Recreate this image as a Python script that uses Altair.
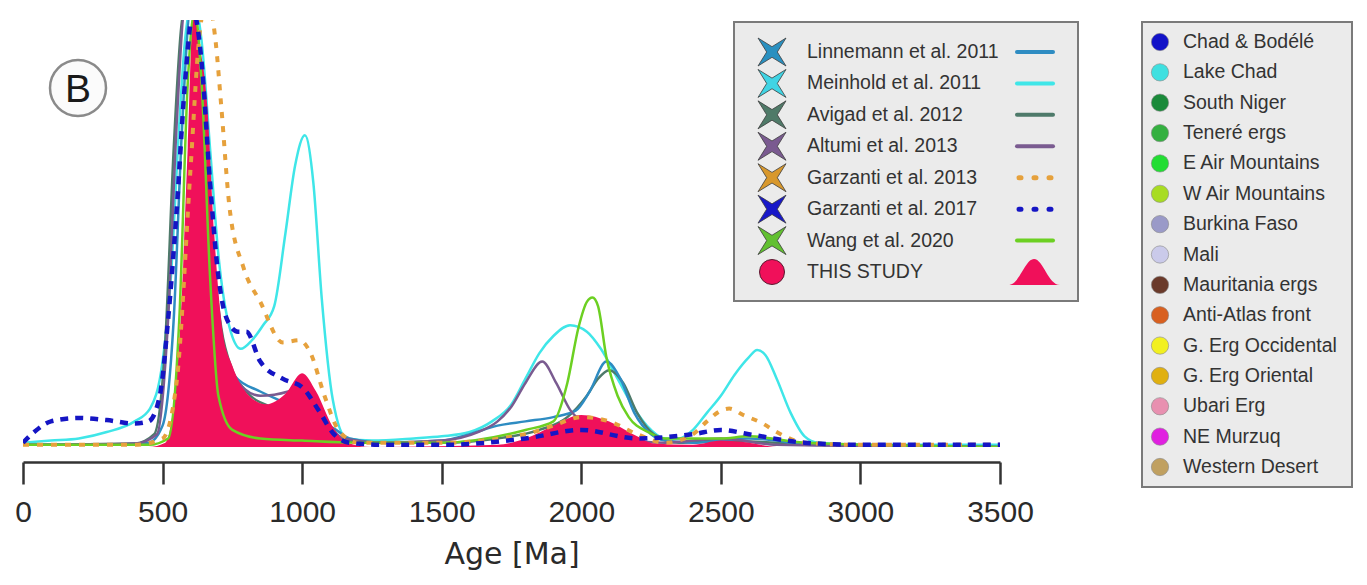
import altair as alt
import pandas as pd

# ---------------- curve data (age in Ma, normalised probability density) ----------------
MEI_AGE = [0, 100, 200, 300, 400, 455, 500, 530, 555, 580, 610, 640, 670, 700, 740, 780, 820, 860, 900, 940,
           975, 1010, 1040, 1070, 1110, 1160, 1250, 1400, 1500, 1600, 1680, 1750, 1800, 1850, 1900, 1960, 2020,
           2070, 2130, 2190, 2250, 2300, 2350, 2400, 2450, 2500, 2550, 2600, 2630, 2660, 2700, 2750, 2800, 2850,
           3000, 3500]
MEI_VAL = [0.01, 0.015, 0.02, 0.035, 0.06, 0.09, 0.2, 0.4, 0.7, 0.95, 1.05, 0.95, 0.7, 0.45, 0.28, 0.23, 0.25,
           0.285, 0.33, 0.5, 0.66, 0.73, 0.62, 0.35, 0.11, 0.02, 0.015, 0.02, 0.025, 0.035, 0.06, 0.1, 0.16, 0.22,
           0.26, 0.285, 0.27, 0.23, 0.16, 0.09, 0.04, 0.02, 0.02, 0.04, 0.08, 0.12, 0.17, 0.21, 0.227, 0.215, 0.16,
           0.08, 0.025, 0.01, 0.005, 0.005]

LIN_AGE = [0, 300, 450, 500, 540, 570, 600, 630, 660, 690, 720, 760, 850, 950, 1050, 1110, 1170, 1300, 1500,
           1600, 1700, 1800, 1900, 1980, 2030, 2090, 2140, 2190, 2250, 2300, 2400, 2500, 2600, 2700, 2800, 3500]
LIN_VAL = [0.005, 0.005, 0.01, 0.05, 0.3, 0.75, 1.02, 0.9, 0.6, 0.35, 0.22, 0.165, 0.13, 0.1, 0.06, 0.045, 0.02,
           0.01, 0.015, 0.03, 0.05, 0.06, 0.07, 0.085, 0.13, 0.2, 0.16, 0.08, 0.03, 0.015, 0.01, 0.015, 0.02,
           0.015, 0.005, 0.0]

AVI_AGE = [0, 400, 470, 510, 540, 570, 595, 620, 650, 680, 710, 750, 800, 900, 1000, 1100, 1200, 1500, 1700,
           1850, 1950, 2020, 2060, 2100, 2150, 2200, 2260, 2350, 2500, 2700, 3500]
AVI_VAL = [0.005, 0.008, 0.03, 0.25, 0.7, 1.0, 1.05, 1.0, 0.75, 0.45, 0.28, 0.18, 0.13, 0.09, 0.06, 0.03, 0.01,
           0.01, 0.02, 0.04, 0.07, 0.12, 0.16, 0.18, 0.15, 0.08, 0.03, 0.01, 0.015, 0.01, 0.0]

ALT_AGE = [0, 400, 480, 520, 550, 580, 610, 640, 670, 700, 750, 850, 950, 1000, 1050, 1150, 1300, 1500, 1630,
           1700, 1750, 1800, 1860, 1910, 1960, 2000, 2050, 2150, 2300, 2500, 2700, 3500]
ALT_VAL = [0.005, 0.008, 0.03, 0.3, 0.75, 1.02, 1.0, 0.75, 0.45, 0.28, 0.17, 0.12, 0.13, 0.15, 0.1, 0.02, 0.01,
           0.015, 0.035, 0.06, 0.095, 0.15, 0.2, 0.15, 0.087, 0.06, 0.04, 0.02, 0.01, 0.02, 0.005, 0.0]

WAN_AGE = [0, 450, 520, 560, 590, 615, 640, 670, 700, 750, 850, 1000, 1200, 1500, 1800, 1900, 1950, 1990, 2020,
           2040, 2060, 2090, 2130, 2170, 2240, 2300, 2500, 2600, 2800, 3500]
WAN_VAL = [0.005, 0.005, 0.02, 0.3, 0.85, 1.02, 0.85, 0.4, 0.12, 0.04, 0.02, 0.015, 0.01, 0.01, 0.04, 0.06, 0.15,
           0.28, 0.34, 0.35, 0.33, 0.21, 0.12, 0.07, 0.035, 0.02, 0.02, 0.025, 0.01, 0.0]

G13_AGE = [0, 400, 500, 550, 600, 630, 660, 690, 710, 740, 790, 850, 930, 990, 1030, 1080, 1130, 1200, 1500,
           1800, 1900, 2000, 2100, 2200, 2300, 2400, 2450, 2500, 2530, 2580, 2650, 2700, 2800, 3000, 3500]
G13_VAL = [0.005, 0.005, 0.02, 0.15, 0.65, 0.95, 1.05, 0.95, 0.8, 0.56, 0.42, 0.34, 0.245, 0.25, 0.22, 0.12, 0.04,
           0.01, 0.01, 0.03, 0.05, 0.07, 0.06, 0.03, 0.01, 0.03, 0.06, 0.085, 0.09, 0.075, 0.055, 0.035, 0.01,
           0.005, 0.005]

G17_AGE = [0, 40, 100, 200, 300, 400, 450, 490, 520, 550, 580, 610, 640, 670, 700, 730, 770, 800, 850, 930, 1000,
           1060, 1110, 1170, 1300, 1500, 1800, 2000, 2200, 2400, 2500, 2600, 2800, 3000, 3500]
G17_VAL = [0.01, 0.035, 0.06, 0.068, 0.063, 0.055, 0.06, 0.12, 0.3, 0.55, 0.85, 1.02, 0.9, 0.62, 0.4, 0.3, 0.27,
           0.27, 0.2, 0.16, 0.14, 0.085, 0.033, 0.01, 0.005, 0.005, 0.02, 0.04, 0.02, 0.03, 0.04, 0.03, 0.01,
           0.005, 0.005]

THS_AGE = [0, 450, 510, 540, 565, 590, 610, 630, 660, 685, 715, 750, 810, 870, 940, 1000, 1050, 1110, 1160, 1250,
           1700, 1800, 1900, 2000, 2100, 2200, 2260, 2400, 2500, 2600, 2700, 3500]
THS_VAL = [0.0, 0.0, 0.01, 0.1, 0.3, 0.7, 1.02, 0.95, 0.8, 0.5, 0.27, 0.19, 0.12, 0.1, 0.125, 0.173, 0.13, 0.047,
           0.01, 0.0, 0.005, 0.02, 0.05, 0.075, 0.06, 0.025, 0.008, 0.005, 0.015, 0.01, 0.0, 0.0]

AGE_TICKS = [0, 500, 1000, 1500, 2000, 2500, 3000, 3500]

# ---------------- legend content ----------------
STUDIES = ["Linnemann et al. 2011", "Meinhold et al. 2011", "Avigad et al. 2012", "Altumi et al. 2013",
           "Garzanti et al. 2013", "Garzanti et al. 2017", "Wang et al. 2020", "THIS STUDY"]
STUDY_LINE_COLORS = ["#2e8cc2", "#3fe6e8", "#4e7a6a", "#7a5b90", "#e6a13c", "#1515c4", "#6cd022", "#f0105a"]
STUDY_SYMBOL_COLORS = ["#2a90c0", "#40d4e4", "#4f7a68", "#7a5a90", "#d8982c", "#1818c8", "#62c030", "#f0105a"]

REGIONS = ["Chad & Bodélé", "Lake Chad", "South Niger", "Teneré ergs", "E Air Mountains", "W Air Mountains",
           "Burkina Faso", "Mali", "Mauritania ergs", "Anti-Atlas front", "G. Erg Occidental", "G. Erg Oriental",
           "Ubari Erg", "NE Murzuq", "Western Desert"]
REGION_COLORS = ["#1212c8", "#3fe0e0", "#1a8a3a", "#34b040", "#22dd33", "#a8dc22", "#9a9ac8", "#cacaea",
                 "#6a3a2a", "#d86020", "#f2f020", "#e0b010", "#e890b0", "#e020e0", "#c0a060"]

PANEL_LABEL = "B"

STAR = "M-1,-1 L0,-0.38 L1,-1 L0.38,0 L1,1 L0,0.38 L-1,1 L-0.38,0 Z"
BELL = "M-1,0.5 C-0.55,0.5 -0.35,-0.5 0,-0.5 C0.35,-0.5 0.55,0.5 1,0.5 Z"

# ---------------- scales / encodings ----------------
AXIS = alt.Axis(title="Age [Ma]", values=AGE_TICKS, format="d", grid=False, offset=15,
                domainWidth=2.5, domainColor="#333333", tickSize=22, tickWidth=2.5, tickColor="#333333",
                labelFont="Liberation Sans", labelFontSize=30, labelColor="#2a2a2a", labelPadding=13,
                labelFlush=False, labelOverlap=False,
                titleFont="DejaVu Sans", titleFontSize=30, titleFontWeight="normal", titleColor="#2a2a2a",
                titlePadding=12)
X = alt.X("age:Q", scale=alt.Scale(domain=[0, 3500], nice=False, zero=False), axis=AXIS)
Y = alt.Y("val:Q", scale=alt.Scale(domain=[0, 1], nice=False), axis=None)


def frame(ages, vals):
    return pd.DataFrame({"age": ages, "val": vals})


def curve(ages, vals, color, width, dash=None):
    kw = dict(color=color, strokeWidth=width, interpolate="monotone", clip=True)
    if dash is not None:
        kw["strokeDash"] = dash
    return alt.Chart(frame(ages, vals)).mark_line(**kw).encode(x=X, y=Y)


curves = alt.layer(
    curve(MEI_AGE, MEI_VAL, STUDY_LINE_COLORS[1], 2.5),
    curve(AVI_AGE, AVI_VAL, STUDY_LINE_COLORS[2], 2.5),
    curve(LIN_AGE, LIN_VAL, STUDY_LINE_COLORS[0], 2.5),
    curve(ALT_AGE, ALT_VAL, STUDY_LINE_COLORS[3], 2.5),
    alt.Chart(frame(THS_AGE, THS_VAL)).mark_area(color=STUDY_LINE_COLORS[7], interpolate="monotone",
                                                  clip=True, opacity=1).encode(x=X, y=Y),
    curve(WAN_AGE, WAN_VAL, STUDY_LINE_COLORS[6], 2.5),
    curve(G13_AGE, G13_VAL, STUDY_LINE_COLORS[4], 4, [6, 8]),
    curve(G17_AGE, G17_VAL, STUDY_LINE_COLORS[5], 4.5, [8, 7]),
)

one = pd.DataFrame({"label": [PANEL_LABEL]})

# ---------------- legend 1 (studies) ----------------
leg1 = pd.DataFrame({"idx": list(range(len(STUDIES))), "label": STUDIES,
                     "line": STUDY_LINE_COLORS, "sym": STUDY_SYMBOL_COLORS})
Y1 = alt.Y("idx:Q", scale=alt.Scale(domain=[0, 7], range=[32, 252]), axis=None)
base1 = alt.Chart(leg1)
legend1 = alt.layer(
    alt.Chart(one).mark_rect(fill="#ebebeb", stroke="#7a7a7a", strokeWidth=2).encode(
        x=alt.value(711), x2=alt.value(1055), y=alt.value(2), y2=alt.value(281)),
    base1.transform_filter("datum.idx < 7").mark_point(shape=STAR, filled=True, size=784, stroke="#3c3c3c",
                                                       strokeWidth=0.8, opacity=1).encode(
        x=alt.value(749), y=Y1, fill=alt.Fill("sym:N", scale=None)),
    base1.transform_filter("datum.idx == 7").mark_point(shape="circle", filled=True, size=625, stroke="#5a1a30",
                                                        strokeWidth=1, opacity=1).encode(
        x=alt.value(749), y=Y1, fill=alt.Fill("sym:N", scale=None)),
    base1.mark_text(align="left", baseline="middle", font="Liberation Sans", fontSize=19.5,
                    color="#333333").encode(x=alt.value(784), y=Y1, text="label:N"),
    base1.transform_filter("datum.idx != 4 && datum.idx != 5 && datum.idx != 7").mark_rule(
        strokeWidth=4, strokeCap="round").encode(
        x=alt.value(994), x2=alt.value(1030), y=Y1, color=alt.Color("line:N", scale=None)),
    base1.transform_filter("datum.idx == 4 || datum.idx == 5").mark_rule(
        strokeWidth=5, strokeCap="round", strokeDash=[2, 13]).encode(
        x=alt.value(996), x2=alt.value(1032), y=Y1, color=alt.Color("line:N", scale=None)),
    base1.transform_filter("datum.idx == 7").mark_point(shape=BELL, filled=True, size=2704, strokeWidth=0,
                                                        opacity=1).encode(
        x=alt.value(1011), y=Y1, fill=alt.Fill("line:N", scale=None)),
)

# ---------------- legend 2 (regions) ----------------
leg2 = pd.DataFrame({"idx": list(range(len(REGIONS))), "label": REGIONS, "col": REGION_COLORS})
Y2 = alt.Y("idx:Q", scale=alt.Scale(domain=[0, 14], range=[22, 447]), axis=None)
base2 = alt.Chart(leg2)
legend2 = alt.layer(
    alt.Chart(one).mark_rect(fill="#ebebeb", stroke="#7a7a7a", strokeWidth=2).encode(
        x=alt.value(1119), x2=alt.value(1329), y=alt.value(2), y2=alt.value(467)),
    base2.mark_point(shape="circle", filled=True, size=300, stroke="#888888", strokeWidth=0.6,
                     opacity=1).encode(x=alt.value(1137), y=Y2, fill=alt.Fill("col:N", scale=None)),
    base2.mark_text(align="left", baseline="middle", font="Liberation Sans", fontSize=19.5,
                    color="#333333").encode(x=alt.value(1160), y=Y2, text="label:N"),
)

# ---------------- panel badge ----------------
badge = alt.layer(
    alt.Chart(one).mark_point(shape="circle", filled=True, size=3136, fill="#fbfbfb", stroke="#8a8a8a",
                              strokeWidth=2.5, opacity=1).encode(x=alt.value(55), y=alt.value(68)),
    alt.Chart(one).mark_text(font="Liberation Sans", fontSize=39, color="#1a1a1a", align="center",
                             baseline="middle").encode(x=alt.value(55), y=alt.value(70), text="label:N"),
)

chart = alt.layer(curves, legend1, legend2, badge).resolve_scale(y="independent").properties(
    width=977, height=427,
    padding={"left": 23, "top": 20, "right": 367, "bottom": 138},
    autosize=alt.AutoSizeParams(type="none"),
    background="white",
).configure_view(stroke=None)

chart.save("out.html", embed_options={"renderer": "svg", "actions": False})
